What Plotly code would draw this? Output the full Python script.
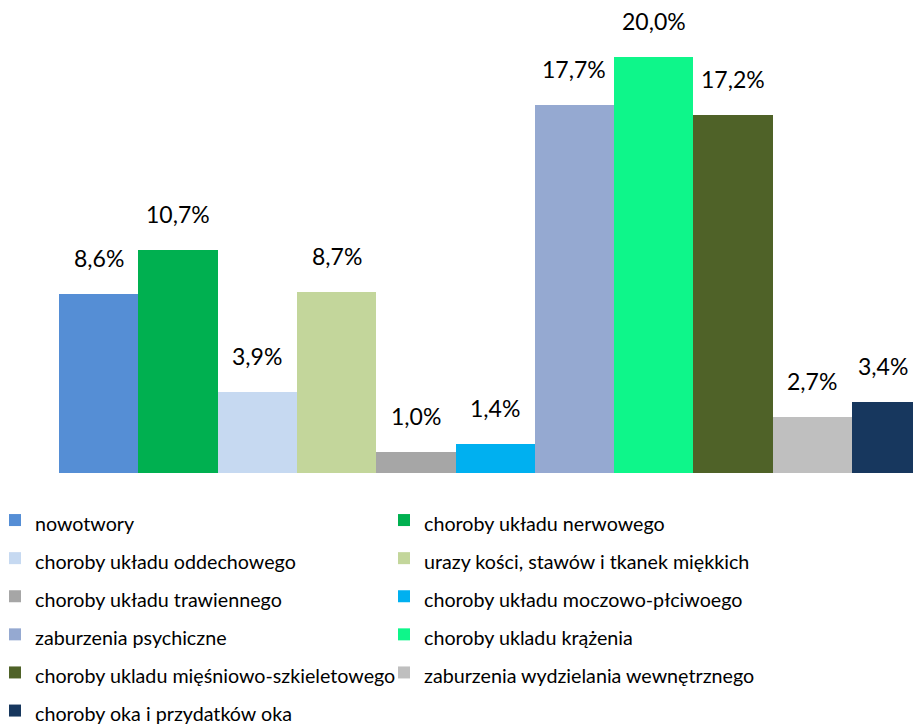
import plotly.graph_objects as go

categories = [
    "nowotwory",
    "choroby układu nerwowego",
    "choroby układu oddechowego",
    "urazy kości, stawów i tkanek miękkich",
    "choroby układu trawiennego",
    "choroby układu moczowo-płciwoego",
    "zaburzenia psychiczne",
    "choroby ukladu krążenia",
    "choroby ukladu mięśniowo-szkieletowego",
    "zaburzenia wydzielania wewnętrznego",
    "choroby oka i przydatków oka",
]
values = [8.6, 10.7, 3.9, 8.7, 1.0, 1.4, 17.7, 20.0, 17.2, 2.7, 3.4]
colors = [
    "#558ED5", "#00B050", "#C6D9F1", "#C3D69B", "#A6A6A6", "#00B0F0",
    "#95A9D1", "#0EF68A", "#4F6228", "#BFBFBF", "#17375E",
]

FONT = "Lato, 'Open Sans', sans-serif"
PLOT_W = 854
CAT_PX = 79.3
X_MIN = -0.5
X_MAX = X_MIN + PLOT_W / CAT_PX   # last bar is cut by the plot edge, as in the original

fig = go.Figure()
for i, (cat, val, col) in enumerate(zip(categories, values, colors)):
    fig.add_trace(go.Bar(
        x=[cat], y=[val], name=f'<span style="font-size:19.7px">{cat}</span>',
        marker=dict(color=col, line=dict(width=0)),
        hoverinfo="skip",
    ))
    # label centred over the visible part of the bar
    x_lab = (max(i - 0.5, X_MIN) + min(i + 0.5, X_MAX)) / 2
    fig.add_annotation(
        x=x_lab, y=val, text=f"{val:.1f}".replace(".", ",") + "%",
        showarrow=False, yanchor="middle", yshift=36,
        font=dict(family=FONT, size=23, color="#000000"),
    )

fig.update_layout(
    width=905, height=720,
    margin=dict(l=51, r=0, t=0, b=255, autoexpand=False),
    paper_bgcolor="white", plot_bgcolor="white",
    barmode="overlay", bargap=0,
    showlegend=True,
    font=dict(family=FONT, color="#000000"),
    xaxis=dict(type="category", categoryorder="array", categoryarray=categories,
               range=[X_MIN, X_MAX], showticklabels=False,
               showgrid=False, zeroline=False, showline=False, ticks=""),
    yaxis=dict(range=[0, 465 / 20.8], showticklabels=False, showgrid=False,
               zeroline=False, showline=False, ticks=""),
    legend=dict(
        orientation="h", x=-64 / PLOT_W, xanchor="left", y=(465 - 488) / 465,
        yanchor="top", entrywidth=344, entrywidthmode="pixels",
        font=dict(family=FONT, size=27.0, color="#000000"),
        bgcolor="rgba(0,0,0,0)", traceorder="normal", itemclick=False,
    ),
)

fig.write_html("out.html")
